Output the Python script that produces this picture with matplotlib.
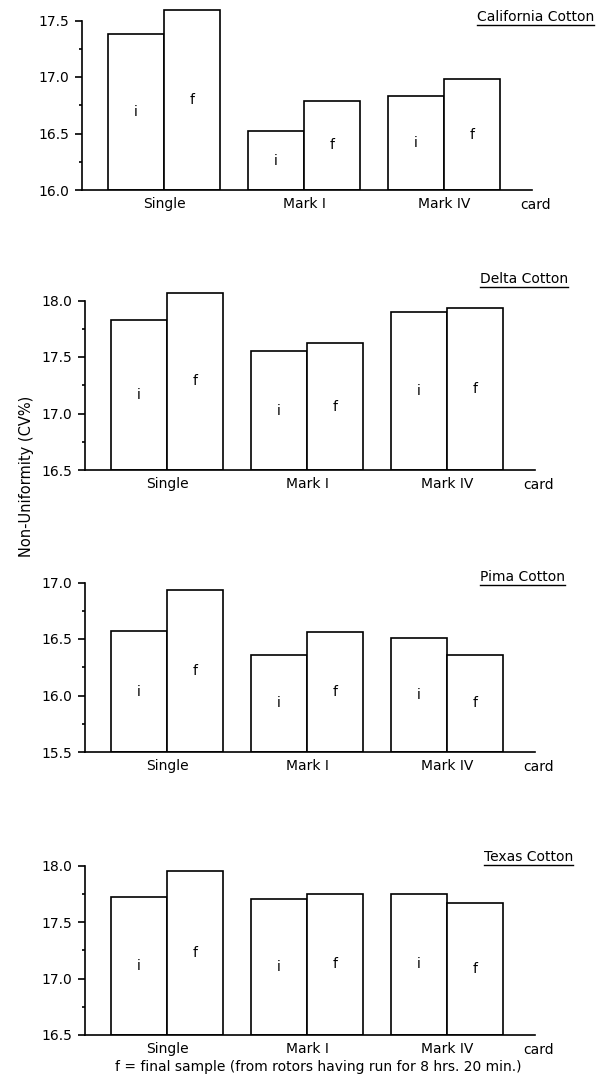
import numpy as np
import matplotlib
matplotlib.use("Agg")
import matplotlib.pyplot as plt
from matplotlib.lines import Line2D

plt.rcParams['font.family'] = ['DejaVu Sans']

categories = ["Single", "Mark I", "Mark IV"]
cottons = ["California Cotton", "Delta Cotton", "Pima Cotton", "Texas Cotton"]

initial_california = [17.38, 16.52, 16.83]
final_california = [17.59, 16.79, 16.98]
initial_delta = [17.83, 17.55, 17.90]
final_delta = [18.07, 17.62, 17.93]
initial_pima = [16.57, 16.36, 16.51]
final_pima = [16.93, 16.56, 16.36]
initial_texas = [17.72, 17.70, 17.75]
final_texas = [17.95, 17.75, 17.67]

axis_base = [16.0, 16.5, 15.5, 16.5]
axis_span = 1.5

initial_all = [initial_california, initial_delta, initial_pima, initial_texas]
final_all = [final_california, final_delta, final_pima, final_texas]

W, H = 604, 1089
fig = plt.figure(figsize=(W / 100, H / 100), dpi=100)

# layout (pixels)
bottoms_px = [190, 470, 752, 1035]
left_px = [82, 85, 85, 85]
px_per_unit_x = 140
px_per_unit_y = 113
xlim = (-0.586, 2.63)
ytop_extra = 0.18
title_y_px = [17, 279, 577, 857]
title_x_px = [477, 480, 480, 484]

lw = 1.2
fs = 10
x = np.arange(len(categories))
bw = 0.4

for k in range(4):
    lo = axis_base[k]
    ylim = (lo, lo + axis_span + ytop_extra)
    h_px = (ylim[1] - ylim[0]) * px_per_unit_y
    w_px = (xlim[1] - xlim[0]) * px_per_unit_x
    ax = fig.add_axes([left_px[k] / W, (H - bottoms_px[k]) / H, w_px / W, h_px / H])
    ini = np.array(initial_all[k])
    fin = np.array(final_all[k])
    ax.bar(x - bw / 2, ini - lo, bottom=lo, width=bw, color='white',
           edgecolor='black', linewidth=lw, zorder=2)
    ax.bar(x + bw / 2, fin - lo, bottom=lo, width=bw, color='white',
           edgecolor='black', linewidth=lw, zorder=2)
    for j in range(len(categories)):
        ax.text(x[j] - bw / 2, (lo + ini[j]) / 2, "i", ha='center', va='center', fontsize=fs)
        ax.text(x[j] + bw / 2, (lo + fin[j]) / 2, "f", ha='center', va='center', fontsize=fs)
    ax.set_xlim(*xlim)
    ax.set_ylim(*ylim)
    for s in ['top', 'right']:
        ax.spines[s].set_visible(False)
    ax.spines['left'].set_bounds(lo, lo + axis_span)
    ax.spines['left'].set_linewidth(lw)
    ax.spines['bottom'].set_linewidth(lw)
    ax.set_yticks(np.arange(lo, lo + axis_span + 0.01, 0.5))
    ax.set_yticks(np.arange(lo + 0.25, lo + axis_span, 0.5), minor=True)
    ax.yaxis.set_major_formatter(matplotlib.ticker.FormatStrFormatter('%.1f'))
    ax.tick_params(axis='y', which='major', length=5, width=lw, labelsize=fs, pad=4)
    ax.tick_params(axis='y', which='minor', length=2.5, width=lw)
    ax.set_xticks(x)
    ax.set_xticklabels(categories)
    ax.tick_params(axis='x', length=0, labelsize=fs, pad=5)
    ax.patch.set_alpha(0)
    ax.text(1.007, -0.08, "card", transform=ax.transAxes, ha='center', va='center', fontsize=fs)

titles = []
for k in range(4):
    t = fig.text(title_x_px[k] / W, 1 - title_y_px[k] / H, cottons[k], ha='left',
                 va='center', fontsize=fs)
    titles.append(t)

fig.text(27 / W, 1 - 476 / H, "Non-Uniformity (CV%)", rotation=90, ha='center',
         va='center', fontsize=10.5)
fig.text(318 / W, 1 - 1067 / H, "f = final sample (from rotors having run for 8 hrs. 20 min.)",
         ha='center', va='center', fontsize=10)

fig.canvas.draw()
renderer = fig.canvas.get_renderer()
for t in titles:
    bb = t.get_window_extent(renderer)
    yy = (bb.y0 - 0.5) / H
    fig.add_artist(Line2D([bb.x0 / W, bb.x1 / W], [yy, yy], color='black', linewidth=1.0,
                          transform=fig.transFigure))

fig.savefig("out.png", dpi=100, facecolor='white')
